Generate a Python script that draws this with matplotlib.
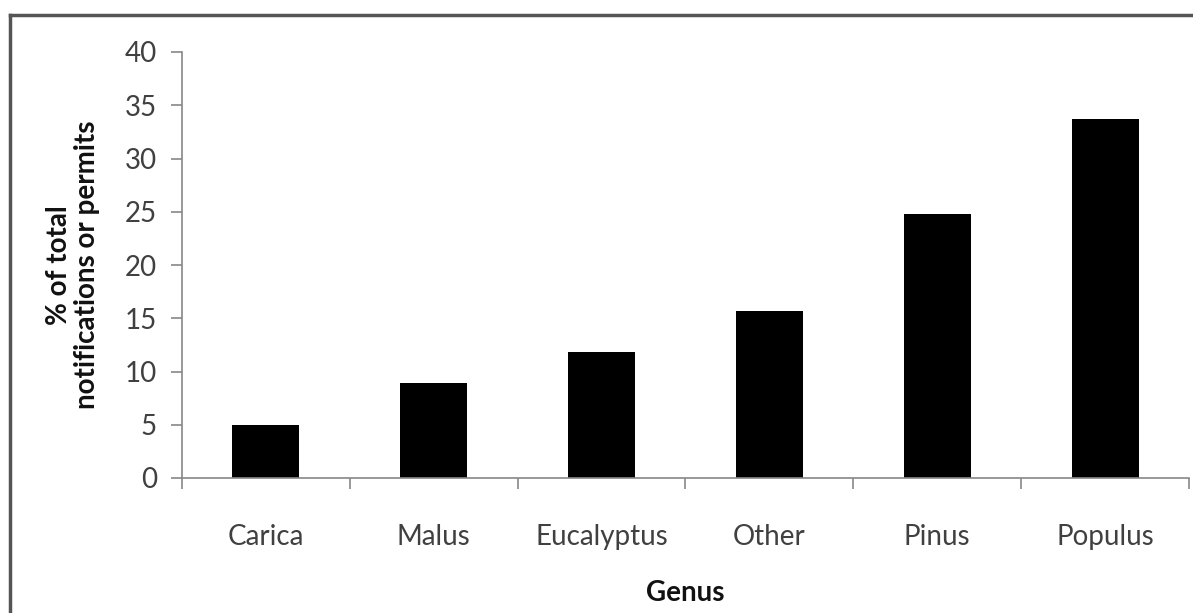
import matplotlib.pyplot as plt
from matplotlib.lines import Line2D

genera = ["Carica", "Malus", "Eucalyptus", "Other", "Pinus", "Populus"]
percent = [5.0, 8.9, 11.8, 15.7, 24.8, 33.7]
yticks = [0, 5, 10, 15, 20, 25, 30, 35, 40]

W, H = 1193, 613
fig = plt.figure(figsize=(W / 100, H / 100), dpi=100)
fig.patch.set_facecolor("white")

ax = fig.add_axes([182 / W, (H - 478) / H, (1189 - 182) / W, (478 - 52) / H])
x = list(range(len(genera)))
ax.bar(x, percent, width=0.4, color="black")

ax.set_xlim(-0.5, len(genera) - 0.5)
ax.set_ylim(0, 40)
ax.set_yticks(yticks)
ax.set_yticklabels([str(t) for t in yticks], fontsize=20, color="#404040", family="Lato")

# category labels centred, ticks at boundaries
ax.set_xticks(x)
ax.set_xticklabels(genera, fontsize=20, color="#404040", family="Lato")
ax.set_xticks([i - 0.5 for i in range(len(genera) + 1)], minor=True)
ax.tick_params(axis="x", which="major", length=0, pad=33)
ax.tick_params(axis="x", which="minor", length=8, color="#888888", width=1.2)
ax.tick_params(axis="y", length=8, color="#888888", width=1.2, pad=10)

for s in ["top", "right"]:
    ax.spines[s].set_visible(False)
for s in ["left", "bottom"]:
    ax.spines[s].set_color("#888888")
    ax.spines[s].set_linewidth(1.2)

ax.set_ylabel("% of total\nnotifications or permits", fontsize=20, fontweight="bold",
              family="Lato", color="#111111", linespacing=1.1, labelpad=18)
ax.set_xlabel("Genus", fontsize=20, fontweight="bold", family="Lato", color="#111111",
              labelpad=22)

# outer frame (top and left only visible)
fig.add_artist(Line2D([10 / W, 1], [1 - 15 / H, 1 - 15 / H], transform=fig.transFigure,
                      color="#555555", linewidth=2.5))
fig.add_artist(Line2D([10 / W, 10 / W], [0, 1 - 15 / H], transform=fig.transFigure,
                      color="#555555", linewidth=2.5))

fig.savefig("out.png", dpi=100)
